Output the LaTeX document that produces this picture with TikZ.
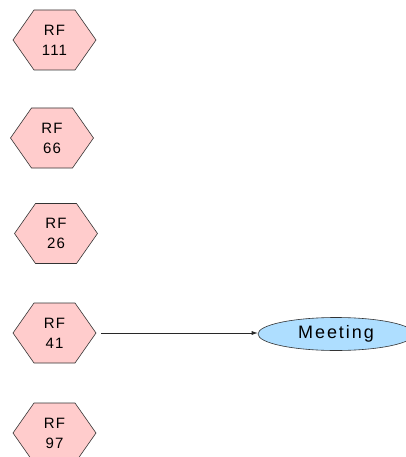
\documentclass[tikz,border=0pt]{standalone}
\usepackage{fontspec}
\setmainfont{Liberation Sans}
\newfontfamily\rffont[LetterSpace=8]{Liberation Sans}
\newfontfamily\meetfont[LetterSpace=11]{Liberation Sans}
\usetikzlibrary{shapes.geometric,arrows.meta,calc}
\definecolor{hexfill}{RGB}{255,204,204}
\definecolor{ellfill}{RGB}{174,222,255}
\definecolor{edgegray}{RGB}{40,40,40}
\tikzset{
  rftext/.style={minimum width=93pt, minimum height=60pt, inner sep=0pt, align=center,
    font=\rffont\fontsize{15}{20}\selectfont, text=black},
  hexshape/.style={draw=black!80, fill=hexfill, line width=0.6pt},
  meetnode/.style={ellipse, draw=black!80, fill=ellfill, line width=0.6pt,
    minimum width=156pt, minimum height=33pt, inner sep=0pt,
    font=\meetfont\fontsize{18}{20}\selectfont, text=black},
  link/.style={draw=edgegray, line width=0.6pt, -{Latex[length=6pt,width=4pt]}}
}
\newcommand{\hexat}[1]{\draw[hexshape] ($(#1.center)+(-41.5pt,0)$) -- ++(21pt,30pt) -- ++(41pt,0) -- ++(21pt,-30pt) -- ++(-21pt,-30pt) -- ++(-41pt,0) -- cycle;}
\begin{document}
\begin{tikzpicture}[x=1pt,y=-1pt]
\clip (0,0) rectangle (406,457);
\fill[white] (0,0) rectangle (406,457);
\node[rftext] (rf111) at (54.5,40) {};
\node[rftext] (rf66) at (52,138) {};
\node[rftext] (rf26) at (56,233.5) {};
\node[rftext] (rf41) at (54.5,333) {};
\node[rftext] (rf97) at (54.5,433) {};
\hexat{rf111}\hexat{rf66}\hexat{rf26}\hexat{rf41}\hexat{rf97}
\node[rftext] at (rf111.center) {RF\\111};
\node[rftext] at (rf66.center) {RF\\66};
\node[rftext] at (rf26.center) {RF\\26};
\node[rftext] at (rf41.center) {RF\\41};
\node[rftext] at (rf97.center) {RF\\97};
\node[meetnode] (meet) at (336,334) {Meeting};
\draw[link] (rf41.east) -- (meet.west |- rf41.east);
\end{tikzpicture}
\end{document}
